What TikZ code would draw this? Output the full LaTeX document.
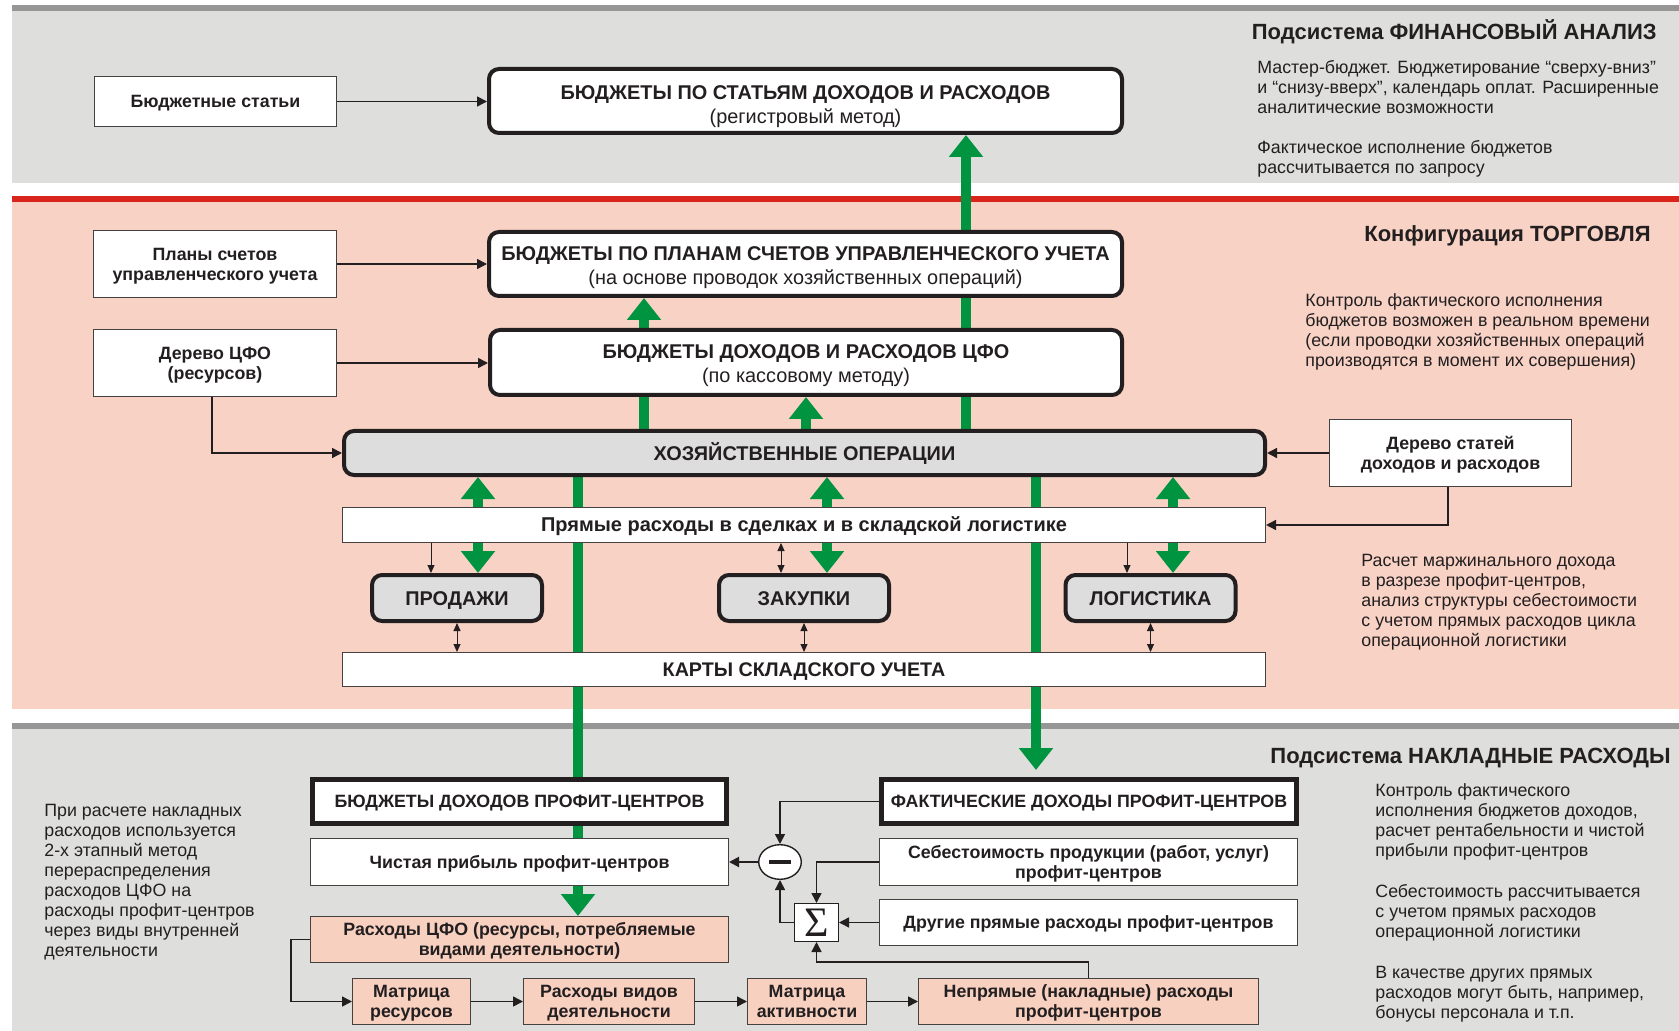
\documentclass[tikz,border=0pt]{standalone}
\usepackage{fontspec}
\setmainfont{Liberation Sans}
\newfontfamily\serifsig{Liberation Serif}
\usetikzlibrary{arrows.meta,calc,shapes.geometric}
\definecolor{bandgray}{RGB}{222,222,220}
\definecolor{linegray}{RGB}{150,150,150}
\definecolor{redline}{RGB}{218,37,29}
\definecolor{pinkband}{RGB}{248,210,197}
\definecolor{pinkbox}{RGB}{248,208,192}
\definecolor{grn}{RGB}{0,148,64}
\definecolor{boxgray}{RGB}{221,221,221}
\definecolor{ink}{RGB}{35,31,32}
\newcommand\hstrut[1]{\rule{0pt}{#1}}
\newcommand\dstrut{\rule[-2.5pt]{0pt}{2.5pt}}
\pgfdeclarelayer{bands}
\pgfdeclarelayer{flows}
\pgfsetlayers{bands,flows,main}
\tikzset{
  every node/.style={text=ink},
  oneline/.style={text height=#1, text depth=2.5pt},
  bigbox/.style={draw=ink, line width=2pt, rounded corners=5pt, fill=white, inner sep=0pt, align=center, font=\fontsize{9.95}{12}\selectfont},
  opbox/.style={draw=ink, line width=2pt, rounded corners=5pt, fill=boxgray, inner sep=0pt, align=center, font=\bfseries\fontsize{9.95}{12}\selectfont, oneline=9.6pt},
  wbox/.style={draw=ink!85, line width=0.7pt, fill=white, inner sep=0pt, align=center, font=\bfseries\fontsize{8.9}{10}\selectfont},
  sidebox/.style={wbox, font=\bfseries\fontsize{8.9}{10.2}\selectfont},
  pbox/.style={wbox, fill=pinkbox},
  thickbox/.style={draw=ink, line width=2.5pt, fill=white, inner sep=0pt, align=center, font=\bfseries\fontsize{8.9}{10}\selectfont, oneline=8.9pt},
  para/.style={anchor=north west, inner sep=0pt, align=left, font=\fontsize{8.9}{10}\selectfont},
  hdr/.style={anchor=base east, inner sep=0pt, font=\bfseries\fontsize{11}{13}\selectfont},
  conn/.style={draw=ink, line width=0.75pt, -{Triangle[length=5pt,width=5pt]}},
  small/.style={draw=ink, line width=0.5pt, -{Triangle[length=4pt,width=3.5pt]}},
  dbl/.style={draw=ink, line width=0.5pt, {Triangle[length=4pt,width=3.5pt]}-{Triangle[length=4pt,width=3.5pt]}},
  flow/.style={draw=grn, line width=5pt, -{Triangle[length=11pt,width=16.5pt]}},
  flowtwo/.style={draw=grn, line width=5pt, {Triangle[length=11pt,width=16.5pt]}-{Triangle[length=11pt,width=16.5pt]}}
}
\begin{document}
\begin{tikzpicture}[x=0.5pt,y=-0.5pt]
\useasboundingbox (0,0) rectangle (1679,1031);

% ---------- bands ----------
\begin{pgfonlayer}{bands}
\fill[white] (0,0) rectangle (1679,1031);
\fill[linegray] (12,5) rectangle (1679,11);
\fill[bandgray] (12,11) rectangle (1679,183);
\fill[redline] (12,196) rectangle (1679,202);
\fill[pinkband] (12,202) rectangle (1679,709);
\fill[linegray] (12,723) rectangle (1679,729);
\fill[bandgray] (12,729) rectangle (1679,1031);
\end{pgfonlayer}

% ---------- top / trade boxes ----------
\node[bigbox, minimum width=316.5pt, minimum height=32pt] (b1) at (805.5,101)
  {\hstrut{13pt}\textbf{БЮДЖЕТЫ ПО СТАТЬЯМ ДОХОДОВ И РАСХОДОВ}\\(регистровый метод)\dstrut};
\node[bigbox, minimum width=316.5pt, minimum height=32pt] (b2) at (805.5,264)
  {\hstrut{10.8pt}\textbf{БЮДЖЕТЫ ПО ПЛАНАМ СЧЕТОВ УПРАВЛЕНЧЕСКОГО УЧЕТА}\\(на основе проводок хозяйственных операций)\dstrut};
\node[bigbox, minimum width=316pt, minimum height=32.5pt] (b3) at (806,362.5)
  {\hstrut{10.8pt}\textbf{БЮДЖЕТЫ ДОХОДОВ И РАСХОДОВ ЦФО}\\(по кассовому методу)\dstrut};
\node[opbox, minimum width=460.5pt, minimum height=22pt] (ho) at (804.5,453) {ХОЗЯЙСТВЕННЫЕ ОПЕРАЦИИ};
\node[wbox, font=\bfseries\fontsize{10}{10}\selectfont, oneline=9.4pt, minimum width=461.3pt, minimum height=17.3pt] (pr) at (804,525)
  {Прямые расходы в сделках и в складской логистике};
\node[opbox, minimum width=85pt, minimum height=23pt] (sales) at (457,598) {ПРОДАЖИ};
\node[opbox, minimum width=85pt, minimum height=23pt] (purch) at (804,598) {ЗАКУПКИ};
\node[opbox, minimum width=85pt, minimum height=23pt] (logi) at (1150.5,598) {ЛОГИСТИКА};
\node[wbox, font=\bfseries\fontsize{9.85}{10}\selectfont, oneline=9.6pt, minimum width=461.3pt, minimum height=16.8pt] (kart) at (804,669.5)
  {КАРТЫ СКЛАДСКОГО УЧЕТА};

\node[sidebox, oneline=8.9pt, minimum width=120.8pt, minimum height=24.8pt] (bs) at (215.5,101.5) {Бюджетные статьи};
\node[sidebox, minimum width=121.3pt, minimum height=33.3pt] (ps) at (215,264) {\hstrut{8.9pt}Планы счетов\\управленческого учета\dstrut};
\node[sidebox, minimum width=121.3pt, minimum height=33.3pt] (dc) at (215,363) {\hstrut{8.9pt}Дерево ЦФО\\(ресурсов)\dstrut};
\node[sidebox, minimum width=120.8pt, minimum height=33.3pt] (ds) at (1450.5,453) {\hstrut{8.9pt}Дерево статей\\доходов и расходов\dstrut};

% ---------- overhead section ----------
\node[thickbox, minimum width=207pt, minimum height=22pt] (bd) at (519.5,801.5) {БЮДЖЕТЫ ДОХОДОВ ПРОФИТ-ЦЕНТРОВ};
\node[thickbox, minimum width=207.5pt, minimum height=22pt] (fd) at (1089,801.5) {ФАКТИЧЕСКИЕ ДОХОДЫ ПРОФИТ-ЦЕНТРОВ};
\node[wbox, oneline=8.9pt, minimum width=208.8pt, minimum height=23.3pt] (np) at (519.5,862) {Чистая прибыль профит-центров};
\node[wbox, minimum width=208.8pt, minimum height=23.3pt] (ss) at (1088.5,862) {\hstrut{8.9pt}Себестоимость продукции (работ, услуг)\\профит-центров\dstrut};
\node[pbox, minimum width=208.8pt, minimum height=22.8pt] (rc) at (519.5,939.5) {\hstrut{8.9pt}Расходы ЦФО (ресурсы, потребляемые\\видами деятельности)\dstrut};
\node[wbox, oneline=8.9pt, minimum width=208.8pt, minimum height=22.8pt] (dr) at (1088.5,922.5) {Другие прямые расходы профит-центров};
\node[pbox, minimum width=58.8pt, minimum height=22.8pt] (mr) at (411.5,1001.5) {\hstrut{8.9pt}Матрица\\ресурсов\dstrut};
\node[pbox, minimum width=85.3pt, minimum height=22.8pt] (rv) at (609,1001.5) {\hstrut{8.9pt}Расходы видов\\деятельности\dstrut};
\node[pbox, minimum width=59.3pt, minimum height=22.8pt] (ma) at (807,1001.5) {\hstrut{8.9pt}Матрица\\активности\dstrut};
\node[pbox, minimum width=169.8pt, minimum height=22.8pt] (nr) at (1088.5,1001.5) {\hstrut{8.9pt}Непрямые (накладные) расходы\\профит-центров\dstrut};
\node[draw=ink, line width=0.7pt, fill=white, inner sep=0pt, minimum width=21.8pt, minimum height=18.8pt] (sig) at (816.5,922.5)
  {\serifsig\fontsize{21}{21}\selectfont Σ};
\node[ellipse, draw=ink, line width=0.7pt, fill=white, inner sep=0pt, minimum width=21.3pt, minimum height=17.3pt] (minus) at (780,862)
  {\rule{11pt}{2pt}};

% ---------- texts ----------
\node[hdr] (h1) at (1657,40) {Подсистема ФИНАНСОВЫЙ АНАЛИЗ};
\node[hdr] (h2) at (1651,242) {Конфигурация ТОРГОВЛЯ};
\node[hdr] (h3) at (1671,763) {Подсистема НАКЛАДНЫЕ РАСХОДЫ};
\node[para] (t1) at (1257,60.5) {Мастер-бюджет. Бюджетирование “сверху-вниз”\\и “снизу-вверх”, календарь оплат. Расширенные\\аналитические возможности};
\node[para] (t2) at (1257,140.5) {Фактическое исполнение бюджетов\\рассчитывается по запросу};
\node[para] (t3) at (1305,293.5) {Контроль фактического исполнения\\бюджетов возможен в реальном времени\\(если проводки хозяйственных операций\\производятся в момент их совершения)};
\node[para] (t4) at (1361,553.5) {Расчет маржинального дохода\\в разрезе профит-центров,\\анализ структуры себестоимости\\с учетом прямых расходов цикла\\операционной логистики};
\node[para] (t5) at (44,803.5) {При расчете накладных\\расходов используется\\2-х этапный метод\\перераспределения\\расходов ЦФО на\\расходы профит-центров\\через виды внутренней\\деятельности};
\node[para] (t6) at (1375,783.5) {Контроль фактического\\исполнения бюджетов доходов,\\расчет рентабельности и чистой\\прибыли профит-центров};
\node[para] (t7) at (1375,884.5) {Себестоимость рассчитывается\\с учетом прямых расходов\\операционной логистики};
\node[para] (t8) at (1375,965.5) {В качестве других прямых\\расходов могут быть, например,\\бонусы персонала и т.п.};

% ---------- green flows ----------
\begin{pgfonlayer}{flows}
\draw[flow] (966,0 |- ho.north) -- (966,0 |- b1.south);
\draw[flow] (644,0 |- ho.north) -- (644,0 |- b2.south);
\draw[flow] (806,0 |- ho.north) -- (806,0 |- b3.south);
\draw[flowtwo] (478,0 |- ho.south) -- (478,0 |- sales.north);
\draw[flowtwo] (827,0 |- ho.south) -- (827,0 |- purch.north);
\draw[flowtwo] (1173,0 |- ho.south) -- (1173,0 |- logi.north);
\draw[flow] (578,0 |- ho.south) -- (578,0 |- rc.north);
\draw[flow, shorten >=3.5pt] (1036,0 |- ho.south) -- (1036,0 |- fd.north);
\end{pgfonlayer}

% ---------- thin connectors ----------
\draw[conn] (bs.east) -- (bs.east -| b1.west);
\draw[conn] (ps.east) -- (ps.east -| b2.west);
\draw[conn] (dc.east) -- (dc.east -| b3.west);
\draw[conn] (212,0 |- dc.south) |- (ho.west);
\draw[conn] (ds.west) -- (ds.west -| ho.east);
\draw[conn] (1448,0 |- ds.south) |- (pr.east);
\draw[small] (431,0 |- pr.south) -- (431,0 |- sales.north);
\draw[dbl] (781,0 |- pr.south) -- (781,0 |- purch.north);
\draw[small] (1127,0 |- pr.south) -- (1127,0 |- logi.north);
\draw[dbl] (sales.south) -- (sales.south |- kart.north);
\draw[dbl] (purch.south) -- (purch.south |- kart.north);
\draw[dbl] (logi.south) -- (logi.south |- kart.north);

\draw[conn] (fd.west) -| (minus.north);
\draw[conn] (ss.west) -| (sig.north);
\draw[conn] (dr.west) -- (sig.east);
\draw[conn] (sig.west) -| (minus.south);
\draw[conn] (nr.north) -- ++(0,-16) -| (sig.south);
\draw[conn, line width=1pt] (minus.west) -- (minus.west -| np.east);
\draw[conn] (rc.west) -- (291,0 |- rc.west) |- (mr.west);
\draw[conn] (mr.east) -- (rv.west);
\draw[conn] (rv.east) -- (ma.west);
\draw[conn] (ma.east) -- (nr.west);
\end{tikzpicture}
\end{document}
